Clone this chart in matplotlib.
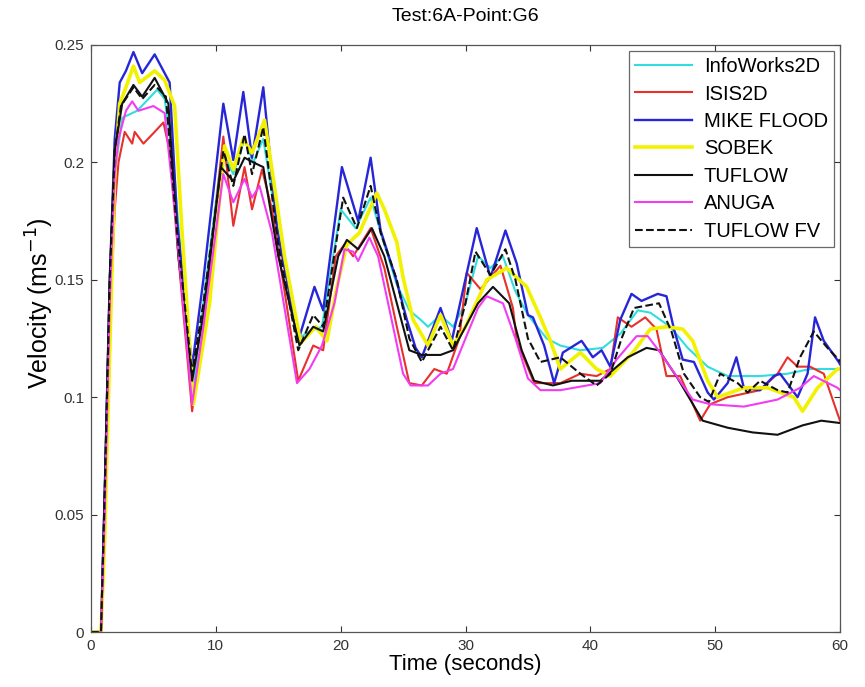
import matplotlib
matplotlib.use("Agg")
import matplotlib.pyplot as plt

plt.rcParams['font.family'] = ['Liberation Sans', 'DejaVu Sans']

title = "Test:6A-Point:G6"
xlabel = "Time (seconds)"
ylabel = "Velocity (ms$^{-1}$)"
x_ticks = [0, 10, 20, 30, 40, 50, 60]
y_ticks = [0, 0.05, 0.1, 0.15, 0.2, 0.25]
y_tick_labels = ["0", "0.05", "0.1", "0.15", "0.2", "0.25"]

# InfoWorks2D
t_info = [0, 0.8, 1.1, 1.5, 1.9, 2.5, 3.7, 4.6, 5.3, 5.9, 6.6, 7.2, 8.1, 9.0, 10.5, 11.4, 12.3, 13.0, 13.8, 15.0,
          16.6, 17.5, 18.5, 20.0, 21.2, 22.4, 23.5, 24.5, 25.5, 26.4, 27.0, 28.0, 29.0, 30.0, 31.0, 32.0, 33.0,
          34.0, 35.0, 36.5, 37.6, 39.2, 41.0, 42.4, 43.8, 44.8, 46.4, 47.8, 49.4, 51.0, 53.6, 55.8, 57.6, 59.8, 60]
v_info = [0, 0, 0.05, 0.14, 0.195, 0.219, 0.222, 0.227, 0.231, 0.227, 0.2, 0.16, 0.1, 0.14, 0.205, 0.195, 0.21, 0.2, 0.21, 0.17,
          0.125, 0.128, 0.13, 0.18, 0.172, 0.185, 0.165, 0.148, 0.137, 0.133, 0.13, 0.135, 0.13, 0.14, 0.16, 0.155, 0.16,
          0.145, 0.135, 0.125, 0.122, 0.12, 0.121, 0.127, 0.137, 0.136, 0.13, 0.121, 0.113, 0.109, 0.109, 0.11, 0.112, 0.112, 0.112]

# ISIS2D
t_isis = [0, 0.8, 1.1, 1.5, 1.9, 2.2, 2.7, 3.3, 3.5, 4.2, 5.1, 5.8, 6.3, 7.0, 8.1, 9.0, 10.6, 11.4, 12.3, 12.9, 13.7, 14.5,
          16.6, 17.8, 18.6, 19.6, 20.3, 21.0, 22.4, 23.5, 24.5, 25.5, 26.5, 27.5, 28.5, 29.5, 30.1, 31.2, 32.8,
          33.8, 34.1, 35.5, 37.6, 39.2, 40.5, 41.6, 42.2, 43.3, 44.4, 45.3, 46.1, 47.2, 48.8, 49.6, 51.0, 53.6,
          55.0, 55.8, 56.6, 57.6, 58.7, 59.8, 60]
v_isis = [0, 0, 0.05, 0.13, 0.18, 0.2, 0.213, 0.208, 0.213, 0.208, 0.213, 0.217, 0.205, 0.16, 0.094, 0.13, 0.211, 0.173, 0.198, 0.18, 0.197, 0.18,
          0.107, 0.122, 0.12, 0.16, 0.165, 0.16, 0.172, 0.155, 0.13, 0.106, 0.105, 0.112, 0.11, 0.125, 0.153, 0.146, 0.156,
          0.138, 0.124, 0.106, 0.106, 0.11, 0.109, 0.112, 0.134, 0.13, 0.134, 0.129, 0.109, 0.109, 0.09, 0.097, 0.1, 0.103,
          0.11, 0.117, 0.113, 0.113, 0.11, 0.093, 0.09]

# MIKE FLOOD
t_mike = [0, 0.8, 1.1, 1.5, 1.9, 2.3, 2.8, 3.4, 4.1, 5.1, 6.3, 6.9, 8.1, 9.0, 10.6, 11.4, 12.2, 12.9, 13.8, 14.9, 16.6, 17.9,
          18.6, 20.1, 21.4, 22.4, 23.2, 23.8, 24.4, 25.3, 26.0, 26.5, 28.0, 28.9, 30.9, 32.0, 33.2, 34.1, 35.0,
          35.4, 36.3, 37.1, 37.8, 39.3, 40.2, 40.9, 41.6, 42.4, 43.3, 44.1, 45.4, 46.1, 46.7, 47.4, 48.3, 49.4,
          49.9, 51.0, 51.7, 52.3, 53.6, 54.7, 55.2, 56.6, 57.4, 58.0, 58.7, 59.9, 60]
v_mike = [0, 0, 0.06, 0.15, 0.21, 0.234, 0.239, 0.247, 0.238, 0.246, 0.234, 0.175, 0.113, 0.15, 0.225, 0.201, 0.23, 0.202, 0.232, 0.172, 0.124, 0.147,
          0.137, 0.198, 0.175, 0.202, 0.171, 0.161, 0.151, 0.133, 0.121, 0.117, 0.138, 0.124, 0.172, 0.151, 0.171, 0.157, 0.135,
          0.134, 0.122, 0.106, 0.119, 0.124, 0.117, 0.12, 0.113, 0.133, 0.144, 0.141, 0.144, 0.143, 0.129, 0.116, 0.115, 0.102,
          0.099, 0.106, 0.117, 0.104, 0.103, 0.109, 0.11, 0.1, 0.11, 0.134, 0.124, 0.115, 0.114]

# SOBEK
t_sobek = [0, 0.8, 1.1, 1.5, 1.9, 2.3, 2.8, 3.4, 3.9, 5.1, 5.9, 6.7, 7.3, 8.2, 9.5, 10.7, 11.4, 12.2, 12.9, 13.9, 14.5, 15.5, 16.8,
           18.0, 18.9, 19.7, 20.5, 21.5, 22.9, 23.5, 24.5, 25.0, 25.8, 27.0, 28.0, 29.0, 30.0, 31.7, 33.3, 34.9,
           36.0, 36.8, 37.6, 39.2, 40.5, 41.6, 43.4, 44.8, 46.1, 47.4, 48.2, 49.4, 50.2, 52.3, 54.2, 56.3, 57.0,
           58.2, 59.8, 60]
v_sobek = [0, 0, 0.04, 0.12, 0.195, 0.225, 0.232, 0.241, 0.234, 0.239, 0.235, 0.224, 0.17, 0.097, 0.14, 0.207, 0.197, 0.21, 0.204, 0.218, 0.197, 0.16, 0.123,
           0.13, 0.124, 0.147, 0.165, 0.17, 0.187, 0.18, 0.166, 0.151, 0.133, 0.122, 0.135, 0.122, 0.13, 0.15, 0.155, 0.147,
           0.134, 0.124, 0.112, 0.119, 0.112, 0.109, 0.119, 0.129, 0.13, 0.129, 0.124, 0.107, 0.1, 0.104, 0.104, 0.1, 0.094,
           0.104, 0.112, 0.112]

# TUFLOW
t_tuflow = [0, 0.8, 1.1, 1.5, 1.9, 2.5, 3.4, 4.1, 5.1, 6.2, 7.0, 8.1, 9.0, 10.4, 11.4, 12.3, 13.0, 13.8, 15.0, 16.7, 17.8,
            18.6, 19.8, 20.5, 21.4, 22.5, 23.5, 24.5, 25.5, 26.5, 28.0, 29.0, 30.0, 31.0, 32.2, 33.5, 34.5, 35.5,
            37.0, 38.5, 40.8, 43.0, 44.5, 45.5, 47.0, 49.0, 51.0, 53.0, 55.0, 57.0, 58.5, 60]
v_tuflow = [0, 0, 0.06, 0.15, 0.205, 0.225, 0.233, 0.228, 0.236, 0.225, 0.16, 0.107, 0.135, 0.198, 0.192, 0.202, 0.2, 0.198, 0.16, 0.122, 0.13,
            0.128, 0.16, 0.167, 0.163, 0.172, 0.16, 0.14, 0.12, 0.118, 0.118, 0.12, 0.13, 0.14, 0.147, 0.14, 0.12, 0.107,
            0.105, 0.107, 0.107, 0.117, 0.121, 0.12, 0.108, 0.09, 0.087, 0.085, 0.084, 0.088, 0.09, 0.089]

# ANUGA
t_anuga = [0, 0.8, 1.1, 1.5, 1.9, 2.2, 2.8, 3.3, 3.8, 5.0, 5.9, 6.7, 8.1, 9.0, 10.6, 11.4, 12.3, 12.9, 13.5, 14.5, 16.5, 17.5,
           18.5, 19.5, 20.3, 21.0, 21.4, 22.3, 23.0, 24.0, 25.0, 25.6, 27.0, 28.0, 29.0, 30.0, 31.0, 31.7, 33.0,
           34.0, 35.0, 36.0, 37.6, 40.8, 42.1, 43.7, 44.6, 45.6, 46.9, 48.2, 49.6, 52.3, 55.0, 56.8, 57.9, 59.8, 60]
v_anuga = [0, 0, 0.05, 0.14, 0.195, 0.21, 0.222, 0.226, 0.222, 0.224, 0.221, 0.18, 0.097, 0.13, 0.195, 0.183, 0.193, 0.185, 0.19, 0.17, 0.106, 0.112,
           0.122, 0.14, 0.163, 0.162, 0.158, 0.168, 0.16, 0.135, 0.11, 0.105, 0.105, 0.11, 0.112, 0.125, 0.138, 0.143, 0.14,
           0.125, 0.108, 0.103, 0.103, 0.106, 0.116, 0.126, 0.126, 0.119, 0.109, 0.099, 0.097, 0.096, 0.099, 0.104, 0.109, 0.104, 0.103]

# TUFLOW FV
t_fv = [0, 0.8, 1.1, 1.5, 1.9, 2.4, 3.4, 4.1, 5.1, 6.0, 6.9, 8.1, 9.0, 10.6, 11.4, 12.3, 12.9, 13.8, 15.0, 16.6, 17.8, 18.6,
        20.2, 21.3, 22.4, 23.2, 24.5, 25.5, 26.5, 28.0, 29.0, 30.0, 30.8, 32.0, 33.2, 34.0, 35.0, 36.0, 37.6,
        39.2, 40.5, 41.6, 42.5, 43.5, 44.5, 45.5, 46.5, 47.5, 48.8, 49.5, 50.4, 51.8, 52.6, 53.6, 55.0, 55.8,
        56.8, 57.9, 59.0, 59.9, 60]
v_fv = [0, 0, 0.06, 0.15, 0.205, 0.224, 0.232, 0.227, 0.233, 0.228, 0.17, 0.11, 0.14, 0.205, 0.19, 0.212, 0.195, 0.215, 0.165, 0.12, 0.135, 0.13,
        0.185, 0.172, 0.19, 0.17, 0.15, 0.125, 0.115, 0.13, 0.12, 0.14, 0.162, 0.152, 0.163, 0.15, 0.125, 0.115, 0.117,
        0.11, 0.105, 0.11, 0.125, 0.138, 0.139, 0.14, 0.128, 0.11, 0.1, 0.098, 0.11, 0.106, 0.102, 0.107, 0.103, 0.102,
        0.117, 0.128, 0.121, 0.116, 0.115]

series = [
    ("InfoWorks2D", t_info, v_info, "#30dede", "-", 1.5),
    ("ISIS2D", t_isis, v_isis, "#e8302c", "-", 1.5),
    ("MIKE FLOOD", t_mike, v_mike, "#2626d8", "-", 1.7),
    ("SOBEK", t_sobek, v_sobek, "#f2f200", "-", 2.6),
    ("TUFLOW", t_tuflow, v_tuflow, "#111111", "-", 1.5),
    ("ANUGA", t_anuga, v_anuga, "#f23cf2", "-", 1.5),
    ("TUFLOW FV", t_fv, v_fv, "#111111", "--", 1.5),
]

fig = plt.figure(figsize=(8.65, 6.87), dpi=100)
ax = fig.add_axes([91/865, 1-632/687, (840-91)/865, (632-45)/687])

for name, t, v, c, ls, lw in series:
    ax.plot(t, v, color=c, linestyle=ls, linewidth=lw, label=name)

ax.set_xlim(0, 60)
ax.set_ylim(0, 0.25)
ax.set_xticks(x_ticks)
ax.set_yticks(y_ticks)
ax.set_yticklabels(y_tick_labels)
ax.tick_params(direction='in', length=4, labelsize=11, colors='#333333', top=True, right=True, pad=5)
for s in ax.spines.values():
    s.set_color('#555555')
    s.set_linewidth(0.9)
ax.set_title(title, fontsize=14, pad=17)
ax.set_xlabel(xlabel, fontsize=16, labelpad=1)
ax.set_ylabel(ylabel, fontsize=18)
ax.yaxis.set_label_coords(-0.047, 0.56)

leg = ax.legend(loc='upper right', fontsize=14.5, frameon=True, fancybox=False,
                edgecolor='#444444', handlelength=2.8, labelspacing=0.42,
                borderaxespad=0.3, handletextpad=0.6, borderpad=0.3)
leg.get_frame().set_linewidth(0.9)

fig.savefig("out.png", dpi=100)
